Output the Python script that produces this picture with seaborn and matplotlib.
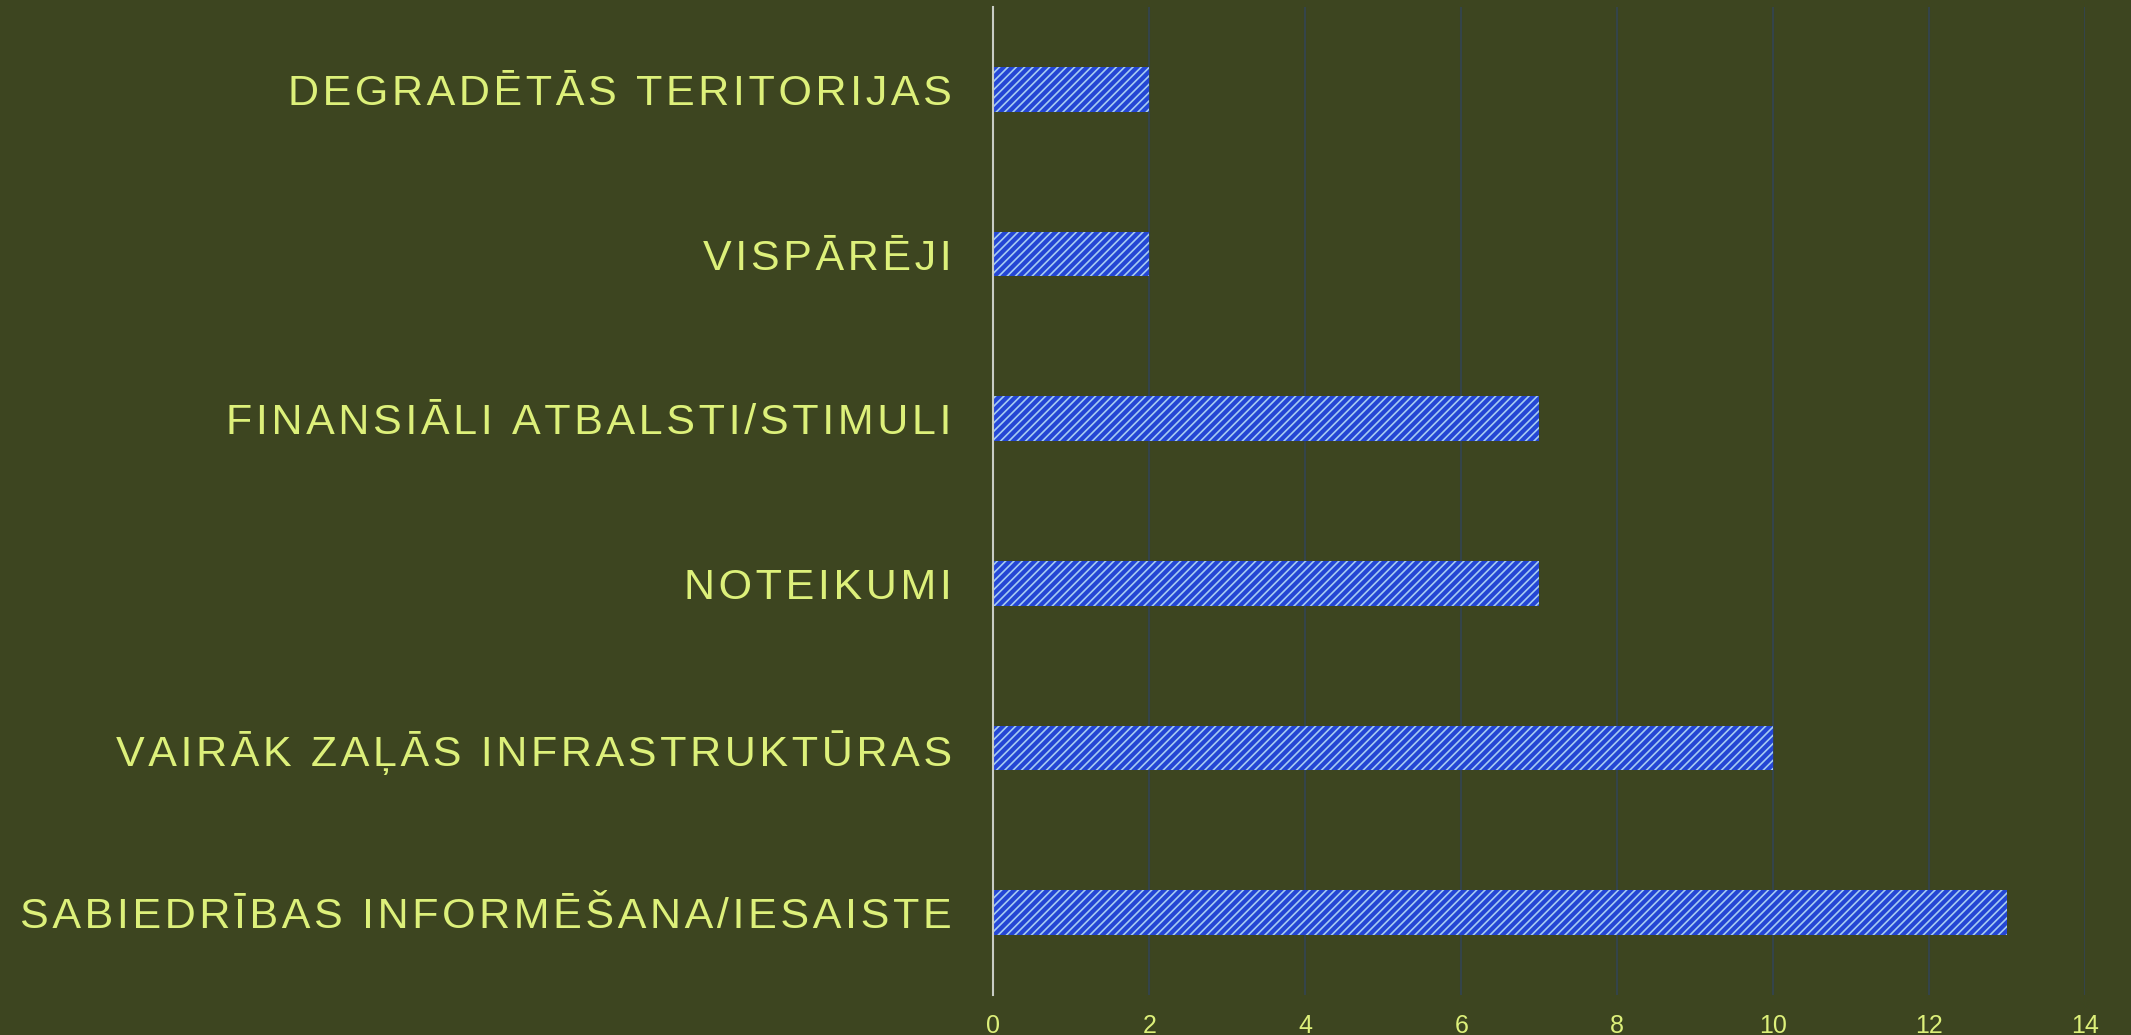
"""
Horizontal bar chart: proposed measures (Latvian categories), hatched blue bars on olive background.
"""

import pandas as pd
import seaborn as sns
import matplotlib.pyplot as plt

# ============================================================================
# Data
# ============================================================================
CATEGORIES = [
    'DEGRADĒTĀS TERITORIJAS',
    'VISPĀRĒJI',
    'FINANSIĀLI ATBALSTI/STIMULI',
    'NOTEIKUMI',
    'VAIRĀK ZAĻĀS INFRASTRUKTŪRAS',
    'SABIEDRĪBAS INFORMĒŠANA/IESAISTE',
]
COUNTS = [2, 2, 7, 7, 10, 13]
X_TICKS = [0, 2, 4, 6, 8, 10, 12, 14]

# Colours
BG = '#3D4520'
BAR = '#2446D4'
HATCH = '#A6CCF2'
TEXT = '#DDF07A'
GRID = '#34444A'
AXIS = '#C8CCC4'

FONT = ['Liberation Sans', 'DejaVu Sans']


def spaced(s):
    # crude letter spacing with hair spaces
    return '\u200a'.join(s)


df = pd.DataFrame({'Category': CATEGORIES, 'Count': COUNTS})

sns.set_style('white')
plt.rcParams['font.family'] = FONT
plt.rcParams['hatch.linewidth'] = 1.2
plt.rcParams['hatch.color'] = HATCH

fig = plt.figure(figsize=(21.31, 10.35), dpi=100, facecolor=BG)
ax = fig.add_axes([0.4662, 0.0386, 0.5122, 0.9546])
ax.set_facecolor(BG)

sns.barplot(data=df, x='Count', y='Category', order=CATEGORIES,
            color=BAR, width=0.27, saturation=1, ax=ax)
for patch in ax.patches:
    patch.set_facecolor(BAR)
    patch.set_hatch('////')
    patch.set_edgecolor(HATCH)
    patch.set_linewidth(0)

ax.set_xlim(0, 14)
ax.set_ylim(5.5, -0.5)
ax.set_xticks(X_TICKS)
ax.set_xticklabels([str(t) for t in X_TICKS])
ax.set_yticks(range(len(CATEGORIES)))
ax.set_yticklabels([spaced(c) for c in CATEGORIES])

ax.xaxis.grid(True, color=GRID, linewidth=1.5)
ax.yaxis.grid(False)
ax.set_axisbelow(True)
ax.tick_params(axis='x', length=0, pad=14, labelsize=18, colors=TEXT)
ax.tick_params(axis='y', length=0, pad=30, labelsize=31, colors=TEXT)

for side in ['top', 'right', 'bottom']:
    ax.spines[side].set_visible(False)
ax.spines['left'].set_color(AXIS)
ax.spines['left'].set_linewidth(1.5)

ax.set_xlabel('')
ax.set_ylabel('')

plt.savefig('out.png', dpi=100, facecolor=BG)
